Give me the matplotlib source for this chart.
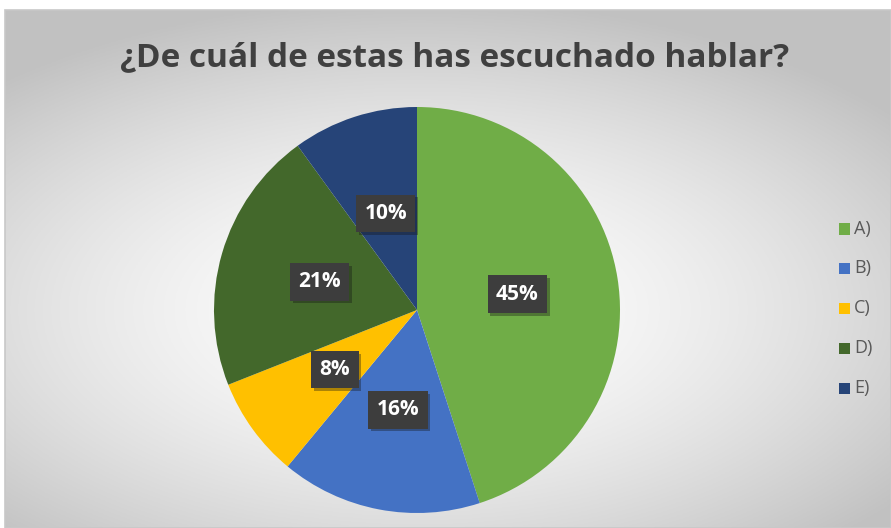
import numpy as np
import matplotlib
matplotlib.use("Agg")
import matplotlib.pyplot as plt
from matplotlib.patches import Rectangle
import matplotlib.patheffects as pe

categories = ["A)", "B)", "C)", "D)", "E)"]
values = [45, 16, 8, 21, 10]
colors = ["#70AD47", "#4472C4", "#FFC000", "#43682B", "#264478"]
title = "¿De cuál de estas has escuchado hablar?"

W, H = 891, 528
fig = plt.figure(figsize=(W / 100, H / 100), dpi=100)
fig.patch.set_facecolor("white")

# background with radial gradient (chart area)
x0 = 5
bx = fig.add_axes([x0 / W, 0, (W - x0) / W, (H - 10) / H])
bx.set_axis_off()
nx, ny = 400, 240
xx, yy = np.meshgrid(np.linspace(-1, 1, nx), np.linspace(-1, 1, ny))
cx, cy = (417 - 448) / 443, (310 - 269) / 259
r = np.sqrt(((xx - cx) / 1.15) ** 2 + ((yy - cy) / 1.0) ** 2)
r = np.clip(r, 0, 1.2) / 1.2
g = 1.0 - 0.24 * r ** 1.6
img = np.dstack([g, g, g])
bx.imshow(img, extent=[0, 1, 0, 1], aspect="auto", origin="upper")
bx.set_xlim(0, 1)
bx.set_ylim(0, 1)
bx.add_patch(Rectangle((0, 0), 1, 1, fill=False, edgecolor="#c8c8c8", lw=1.2,
                       transform=bx.transAxes, clip_on=False))

# pie
R = 203
cxp, cyp = 417, H - 310
ax = fig.add_axes([(cxp - R) / W, (cyp - R) / H, 2 * R / W, 2 * R / H])
ax.set_axis_off()
wedges, texts, autotexts = ax.pie(
    values, colors=colors, startangle=90, counterclock=False,
    autopct="%1.0f%%", pctdistance=0.5, radius=1.0,
    wedgeprops=dict(linewidth=0),
    textprops=dict(color="white", fontsize=15, fontweight="bold", family="Open Sans"),
)
for t in autotexts:
    t.set_bbox(dict(boxstyle="square,pad=0.4", facecolor="#3d3d3d", edgecolor="none"))
    t.get_bbox_patch().set_path_effects([pe.SimplePatchShadow(offset=(2, -2), alpha=0.35), pe.Normal()])
ax.set_xlim(-1, 1)
ax.set_ylim(-1, 1)
ax.set_aspect("equal")

# title
fig.text(455 / W, 1 - 58 / H, title, ha="center", va="center",
         fontsize=24, fontweight="bold", color="#404040", family="Open Sans")

# legend
ys = [229, 268, 308, 348, 388]
for cat, col, yv in zip(categories, colors, ys):
    fig.patches.append(Rectangle((839 / W, (H - yv - 5.5) / H), 11 / W, 11 / H,
                                 transform=fig.transFigure, facecolor=col, edgecolor="none"))
    fig.text(854 / W, (H - yv) / H, cat, ha="left", va="center",
             fontsize=13, color="#595959", family="Open Sans")

fig.savefig("out.png", dpi=100)
